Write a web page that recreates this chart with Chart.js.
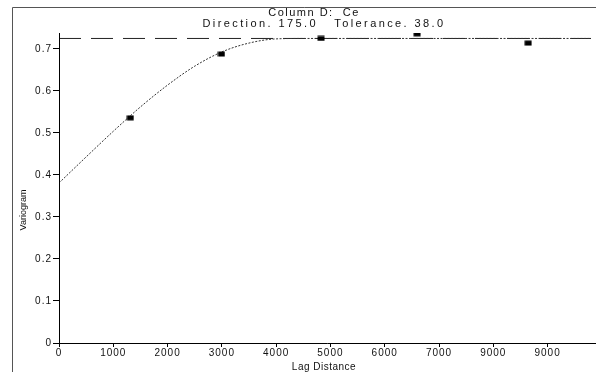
<!DOCTYPE html>
<html>
<head>
<meta charset="utf-8">
<script src="https://cdn.jsdelivr.net/npm/chart.js@4/dist/chart.umd.min.js"></script>
<style>
  html, body { margin: 0; padding: 0; background: #fff; }
  #wrap { width: 596px; height: 372px; position: relative; }
</style>
</head>
<body>
<div id="wrap"><canvas id="c" width="596" height="372"></canvas></div>
<script>
// ---- data ----
const titleLines = ["Column D:  Ce", "Direction. 175.0   Tolerance. 38.0"];
const xTitle = "Lag Distance";
const yTitle = "Variogram";
const xTickValues = [0, 1000, 2000, 3000, 4000, 5000, 6000, 7000, 8000, 9000];
const xTickLabels = ["0", "1000", "2000", "3000", "4000", "5000", "6000", "7000", "9000", "9000"];
const yTickValues = [0, 0.1, 0.2, 0.3, 0.4, 0.5, 0.6, 0.7];
const yTickLabels = ["0", "0.1", "0.2", "0.3", "0.4", "0.5", "0.6", "0.7"];
const lagPoints = [1314, 2993, 4827, 6597, 8642];
const gammaPoints = [0.536, 0.688, 0.725, 0.736, 0.714];
const modelLag = [0, 500, 1000, 1500, 2000, 2500, 3000, 3500, 4000, 4500, 9800];
const modelGamma = [0.381, 0.443, 0.504, 0.562, 0.614, 0.659, 0.693, 0.714, 0.724, 0.725, 0.725];
const sillLag = [0, 9800];
const sillGamma = [0.725, 0.725];

const FONT = "'Liberation Sans', Arial, sans-serif";

// point marker (small black blob)
const marker = document.createElement('canvas');
marker.width = 8; marker.height = 6;
{
  const m = marker.getContext('2d');
  m.fillStyle = '#000';
  m.fillRect(0.5, 0.5, 7, 5);
}

const decor = {
  id: 'decor',
  beforeDraw(chart) {
    chart.ctx.letterSpacing = '1px';
  },
  afterDraw(chart) {
    const ctx = chart.ctx;
    const a = chart.chartArea;
    ctx.save();
    // outer frame
    ctx.strokeStyle = '#555';
    ctx.lineWidth = 1;
    ctx.beginPath();
    ctx.moveTo(12.5, 372);
    ctx.lineTo(12.5, 7.5);
    ctx.lineTo(596, 7.5);
    ctx.stroke();
    // axes
    ctx.strokeStyle = '#000';
    ctx.beginPath();
    ctx.moveTo(a.left + 0.5, 33);
    ctx.lineTo(a.left + 0.5, a.bottom + 0.5);
    ctx.lineTo(596, a.bottom + 0.5);
    ctx.stroke();
    // titles
    ctx.fillStyle = '#111';
    ctx.font = "11px " + FONT;
    ctx.textAlign = 'center';
    ctx.textBaseline = 'middle';
    ctx.letterSpacing = '1.5px';
    ctx.fillText(titleLines[0], 314, 13);
    ctx.letterSpacing = '2.4px';
    ctx.fillText(titleLines[1], 324, 24);
    ctx.letterSpacing = '0.5px';
    ctx.font = "10px " + FONT;
    ctx.fillText(xTitle, 324, 367);
    ctx.translate(24, 210);
    ctx.rotate(-Math.PI / 2);
    ctx.letterSpacing = '0px';
    ctx.font = "9px " + FONT;
    ctx.fillText(yTitle, 0, 0);
    ctx.restore();
  }
};

new Chart(document.getElementById('c'), {
  type: 'scatter',
  data: {
    datasets: [
      {
        label: 'sill',
        data: sillLag.map((x, i) => ({ x, y: sillGamma[i] })),
        showLine: true,
        borderColor: '#222',
        borderWidth: 1,
        borderDash: [22, 10],
        pointRadius: 0,
        order: 3
      },
      {
        label: 'model',
        data: modelLag.map((x, i) => ({ x, y: modelGamma[i] })),
        showLine: true,
        borderColor: '#333',
        borderWidth: 1,
        borderDash: [2, 1.5],
        cubicInterpolationMode: 'monotone',
        pointRadius: 0,
        order: 2
      },
      {
        label: 'experimental',
        data: lagPoints.map((x, i) => ({ x, y: gammaPoints[i] })),
        pointStyle: marker,
        pointRadius: 4,
        backgroundColor: '#000',
        borderColor: '#000',
        order: 1
      }
    ]
  },
  options: {
    responsive: false,
    animation: false,
    events: [],
    layout: { padding: { left: 10, right: 0, top: 33, bottom: 0 } },
    plugins: { legend: { display: false }, tooltip: { enabled: false }, title: { display: false } },
    scales: {
      x: {
        type: 'linear',
        min: 0, max: 9800,
        afterBuildTicks(s) { s.ticks = xTickValues.map(v => ({ value: v })); },
        afterFit(s) { s.height = 29; },
        border: { display: false },
        grid: { drawOnChartArea: false, tickLength: 4, color: '#000' },
        ticks: {
          color: '#111',
          font: { family: FONT, size: 10 },
          padding: 0,
          maxRotation: 0,
          autoSkip: false,
          callback(v) { const i = xTickValues.indexOf(v); return i >= 0 ? xTickLabels[i] : ''; }
        }
      },
      y: {
        type: 'linear',
        min: 0, max: 0.738,
        afterBuildTicks(s) { s.ticks = yTickValues.map(v => ({ value: v })); },
        afterFit(s) { s.width = 49; },
        border: { display: false },
        grid: { drawOnChartArea: false, tickLength: 6, color: '#000' },
        ticks: {
          color: '#111',
          font: { family: FONT, size: 10 },
          padding: 1,
          autoSkip: false,
          callback(v) { const i = yTickValues.findIndex(t => Math.abs(t - v) < 1e-9); return i >= 0 ? yTickLabels[i] : ''; }
        }
      }
    }
  },
  plugins: [decor]
});
</script>
</body>
</html>
